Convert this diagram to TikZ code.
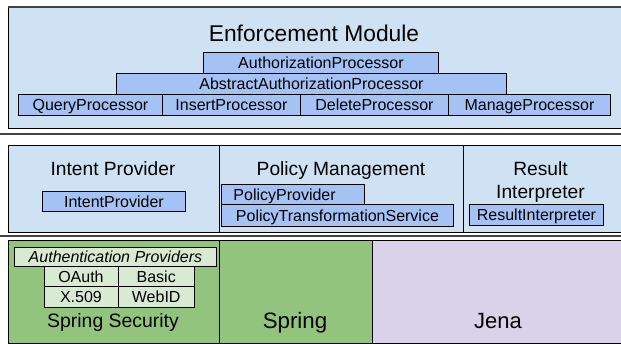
\documentclass[tikz,border=0pt]{standalone}
\usepackage{fontspec}
\setmainfont{Liberation Sans}
\definecolor{regblue}{HTML}{CFE2F3}
\definecolor{procblue}{HTML}{A4C2F4}
\definecolor{green1}{HTML}{93C47D}
\definecolor{green2}{HTML}{D9EAD3}
\definecolor{lav}{HTML}{D9D2E9}
\definecolor{sepgray}{HTML}{434343}
\newcommand{\myfs}[1]{\fontsize{#1}{#1}\selectfont}
\begin{document}
\begin{tikzpicture}[x=1pt,y=-1pt,
  reg/.style={draw=black, line width=0.9pt, inner sep=0pt, anchor=north west},
  cls/.style={draw=black, line width=0.9pt, fill=procblue, inner sep=0pt, anchor=north west,
              font=\myfs{16}, text height=11.46pt, text depth=0pt},
  auth/.style={cls, fill=green2},
  title/.style={inner sep=0pt, text depth=0pt, anchor=center},
  sepline/.style={draw=sepgray, line width=2pt}
]
\useasboundingbox (0,0) rectangle (621,344);
\clip (0,0) rectangle (621,344);

% ---------- Enforcement module ----------
\node[reg, fill=regblue, minimum width=622pt, minimum height=121pt] (em) at (8,7) {};
\draw[sepgray, line width=2pt] (em.north west) -- (em.north east);
\node[title, font=\myfs{22.8}, text height=16.3pt] (emt) at (314,33) {Enforcement Module};
\node[cls, minimum width=235pt, minimum height=21pt] (ap) at (203,52) {AuthorizationProcessor};
\node[cls, minimum width=390pt, minimum height=21pt] (aap) at (116,73) {AbstractAuthorizationProcessor};
\node[cls, minimum width=144pt, minimum height=21pt] (qp) at (18,94) {QueryProcessor};
\node[cls, minimum width=138pt, minimum height=21pt] (ip) at (162,94) {InsertProcessor};
\node[cls, minimum width=148pt, minimum height=21pt] (dp) at (300,94) {DeleteProcessor};
\node[cls, minimum width=162pt, minimum height=21pt] (mp) at (448,94) {ManageProcessor};

\coordinate (s1a) at (0,134.5);
\coordinate (s1b) at (621,134.5);
\draw[sepline] (s1a) -- (s1b);

% ---------- middle layer ----------
\node[reg, fill=regblue, minimum width=210.5pt, minimum height=87pt] (ipreg) at (8,145) {};
\node[reg, fill=regblue, minimum width=244.5pt, minimum height=87pt] (pmreg) at (218.5,145) {};
\node[reg, fill=regblue, minimum width=167pt, minimum height=87pt] (rireg) at (463,145) {};
\node[title, font=\myfs{19.2}, text height=13.75pt] (ipt) at (113,168.5) {Intent Provider};
\node[title, font=\myfs{19.2}, text height=13.75pt] (pmt) at (341,168.5) {Policy Management};
\node[title, font=\myfs{19.2}, text height=13.75pt] (rit1) at (540.5,168.5) {Result};
\node[title, font=\myfs{19.2}, text height=13.75pt] (rit2) at (540.5,191.5) {Interpreter};
\node[cls, minimum width=143pt, minimum height=20pt] (ipb) at (42,191) {IntentProvider};
\node[cls, minimum height=20pt, inner xsep=12pt, text width=119pt, align=left] (ppb) at (221,184) {PolicyProvider};
\node[cls, minimum width=232pt, minimum height=22pt] (ptsb) at (221,204) {PolicyTransformationService};
\node[cls, minimum width=134pt, minimum height=21pt] (rib) at (469,204) {ResultInterpreter};

\coordinate (s2a) at (0,236);
\coordinate (s2b) at (621,236);
\draw[sepline] (s2a) -- (s2b);

% ---------- bottom layer ----------
\node[reg, fill=green1, minimum width=210.5pt, minimum height=103pt] (ssreg) at (8,240) {};
\node[reg, fill=green1, minimum width=153.5pt, minimum height=103pt] (spreg) at (218.5,240) {};
\node[reg, fill=lav, minimum width=258pt, minimum height=103pt] (jreg) at (372,240) {};
\node[auth, minimum width=202pt, minimum height=19pt, font=\myfs{16}\itshape] (apb) at (14,247) {Authentication Providers};
\node[auth, minimum width=74pt, minimum height=20.5pt] (oa) at (43.5,266) {OAuth};
\node[auth, minimum width=76.5pt, minimum height=20.5pt] (ba) at (117.5,266) {Basic};
\node[auth, minimum width=74pt, minimum height=20.5pt] (x5) at (43.5,286.5) {X.509};
\node[auth, minimum width=76.5pt, minimum height=20.5pt] (wi) at (117.5,286.5) {WebID};
\node[title, font=\myfs{19.4}, text height=13.9pt] (sst) at (113,321) {Spring Security};
\node[title, font=\myfs{22.3}, text height=15.97pt] (spt) at (295,320.5) {Spring};
\node[title, font=\myfs{22}, text height=15.75pt] (jt) at (498,320.5) {Jena};
\end{tikzpicture}
\end{document}
